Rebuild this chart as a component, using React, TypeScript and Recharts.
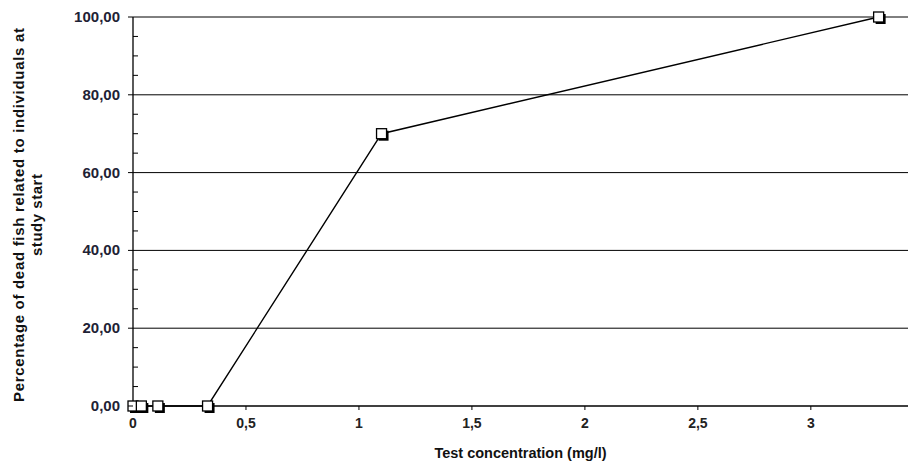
import { LineChart, Line, XAxis, YAxis, ReferenceLine } from 'recharts'

// ─── Data ─────────────────────────────────────────────────────────────────────

const concentrations = [0, 0.037, 0.11, 0.33, 1.1, 3.3]
const deadPercent = [0, 0, 0, 0, 70, 100]

const xTicks = [0, 0.5, 1, 1.5, 2, 2.5, 3]
const yTicks = [0, 5, 10, 15, 20, 25, 30, 35, 40, 45, 50, 55, 60, 65, 70, 75, 80, 85, 90, 95, 100]
const gridValues = [20, 40, 60, 80, 100]

const chartData = concentrations.map((c, i) => ({ conc: c, dead: deadPercent[i] }))

const FONT = '"Liberation Sans", Arial, sans-serif'

// ─── Helpers ──────────────────────────────────────────────────────────────────

const comma = (v: number, digits?: number) =>
  (digits === undefined ? String(v) : v.toFixed(digits)).replace('.', ',')

// Square marker with a dark drop shadow
function SquareDot({ cx, cy }: { cx?: number; cy?: number }) {
  if (cx == null || cy == null) return null
  const s = 10
  return (
    <g>
      <rect x={cx - s / 2 + 2} y={cy - s / 2 + 2} width={s} height={s} fill="#000" />
      <rect x={cx - s / 2} y={cy - s / 2} width={s} height={s} fill="#fff" stroke="#000" strokeWidth={1.3} />
    </g>
  )
}

// Y ticks: labelled majors every 20 (outside), minor every 5 (inside)
function YTick({ x, y, payload }: { x?: number; y?: number; payload?: { value: number } }) {
  if (x == null || y == null || !payload) return null
  const v = payload.value
  const major = v % 20 === 0
  return (
    <g>
      {major ? (
        <>
          <line x1={x - 5} x2={x} y1={y} y2={y} stroke="#000" />
          <text x={x - 13} y={y} dy={5} textAnchor="end" fontFamily={FONT} fontWeight="bold" fontSize={15} fill="#1e2235">
            {comma(v, 2)}
          </text>
        </>
      ) : (
        <line x1={x} x2={x + 5} y1={y} y2={y} stroke="#000" />
      )}
    </g>
  )
}

function YTitle({ viewBox }: { viewBox?: { x: number; y: number; width: number; height: number } }) {
  if (!viewBox) return null
  const cy = 215
  return (
    <g fontFamily={FONT} fontWeight="bold" fontSize={15} fill="#111" textAnchor="middle">
      <text transform={`translate(24, ${cy}) rotate(-90)`} textLength={374} lengthAdjust="spacing">
        Percentage of dead fish related to individuals at
      </text>
      <text transform={`translate(42, ${cy}) rotate(-90)`} textLength={82} lengthAdjust="spacing">
        study start
      </text>
    </g>
  )
}

// ─── Component ────────────────────────────────────────────────────────────────

export default function App() {
  return (
    <div style={{ position: 'absolute', left: 0, top: 0, background: '#fff' }}>
      <LineChart width={909} height={461} data={chartData} margin={{ top: 17, right: 1, left: 0, bottom: 0 }}>
        {gridValues.map(v => (
          <ReferenceLine key={v} y={v} stroke="#000" strokeWidth={1} />
        ))}
        <XAxis
          dataKey="conc"
          type="number"
          domain={[0, 3.43]}
          ticks={xTicks}
          tickFormatter={(v: number) => comma(v)}
          tick={{ fontFamily: FONT, fontWeight: 'bold', fontSize: 14, fill: '#222' }}
          axisLine={{ stroke: '#000', strokeWidth: 1.3 }}
          tickLine={{ stroke: '#000' }}
          tickSize={4}
          tickMargin={8}
          height={55}
          label={{
            value: 'Test concentration (mg/l)',
            position: 'insideBottom',
            offset: 3,
            style: { fontFamily: FONT, fontWeight: 'bold', fontSize: 14.5, fill: '#111' },
          }}
        />
        <YAxis
          type="number"
          domain={[0, 100]}
          ticks={yTicks}
          interval={0}
          width={133}
          tick={<YTick />}
          tickLine={false}
          tickSize={0}
          tickMargin={0}
          axisLine={{ stroke: '#000', strokeWidth: 1.3 }}
          label={<YTitle />}
        />
        <Line
          type="linear"
          dataKey="dead"
          stroke="#000"
          strokeWidth={1.4}
          dot={<SquareDot />}
          activeDot={false}
          isAnimationActive={false}
        />
      </LineChart>
    </div>
  )
}
